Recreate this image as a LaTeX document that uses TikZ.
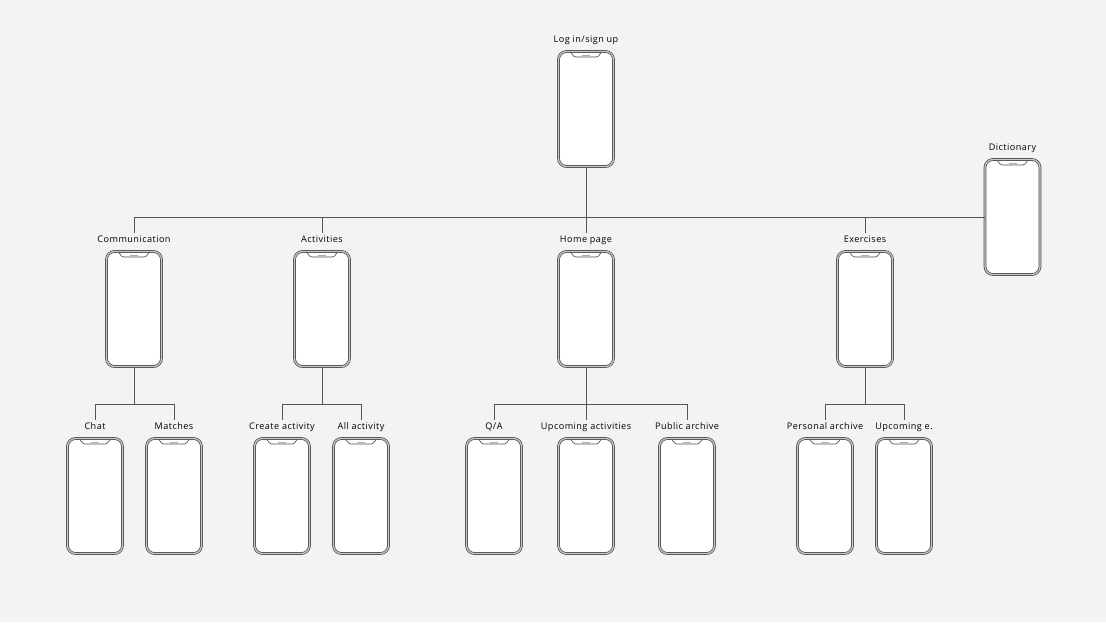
\documentclass[tikz,border=0pt]{standalone}
\usepackage{fontspec}
\setmainfont{Open Sans}[LetterSpace=5]
\usetikzlibrary{positioning}

\definecolor{paper}{HTML}{F3F3F3}
\definecolor{frame}{HTML}{4A4A4A}
\definecolor{wire}{HTML}{555555}

\begin{document}
\begin{tikzpicture}[
  x=1pt, y=-1pt,
  every node/.style={font=\fontsize{9.1}{11}\selectfont},
  caption/.style={inner sep=2.8pt, text=black, text height=6.9pt,
    text depth=2.3pt},
  phone/.style={rectangle, rounded corners=8pt, minimum width=55pt,
    minimum height=115pt, inner sep=0pt, fill=white, draw=frame,
    line width=0.75pt, double=frame!30, double distance=1.2pt,
    path picture={
      \draw[frame, line width=0.65pt, rounded corners=1.5pt]
        ([xshift=-15pt,yshift=-1pt]path picture bounding box.north)
        -- ([xshift=-12pt,yshift=-5.5pt]path picture bounding box.north)
        -- ([xshift=12pt,yshift=-5.5pt]path picture bounding box.north)
        -- ([xshift=15pt,yshift=-1pt]path picture bounding box.north);
      \draw[frame!45, line width=0.4pt]
        ([xshift=-4pt,yshift=-3.4pt]path picture bounding box.north)
        -- ([xshift=4pt,yshift=-3.4pt]path picture bounding box.north);
    }},
  wire/.style={draw=wire, line width=0.8pt}
]

% background / page size
\fill[paper] (0,0) rectangle (1106,622);
\useasboundingbox (0,0) rectangle (1106,622);

% ------------------------------------------------------------
% Top: entry screen and the side screen
% ------------------------------------------------------------
\node[phone] (login) at (586,109) {};
\node[caption, above=3.2pt of login] (loginlbl) {Log in/sign up};

\node[phone] (dict) at (1012.5,217) {};
\node[caption, above=3.2pt of dict] (dictlbl) {Dictionary};

% ------------------------------------------------------------
% Second level
% ------------------------------------------------------------
\node[phone] (comm) at (134,309) {};
\node[caption, above=3.2pt of comm] (commlbl) {Communication};

\node[phone] (act) at (322,309) {};
\node[caption, above=3.2pt of act] (actlbl) {Activities};

\node[phone] (home) at (586,309) {};
\node[caption, above=3.2pt of home] (homelbl) {Home page};

\node[phone] (exer) at (865,309) {};
\node[caption, above=3.2pt of exer] (exerlbl) {Exercises};

% ------------------------------------------------------------
% Third level
% ------------------------------------------------------------
\node[phone] (chat) at (95,496) {};
\node[caption, above=3.2pt of chat] (chatlbl) {Chat};
\node[phone] (match) at (174,496) {};
\node[caption, above=3.2pt of match] (matchlbl) {Matches};

\node[phone] (create) at (282,496) {};
\node[caption, above=3.2pt of create] (createlbl) {Create activity};
\node[phone] (allact) at (361,496) {};
\node[caption, above=3.2pt of allact] (allactlbl) {All activity};

\node[phone] (qa) at (494,496) {};
\node[caption, above=3.2pt of qa] (qalbl) {Q/A};
\node[phone] (upcom) at (586,496) {};
\node[caption, above=3.2pt of upcom] (upcomlbl) {Upcoming activities};
\node[phone] (public) at (687,496) {};
\node[caption, above=3.2pt of public] (publiclbl) {Public archive};

\node[phone] (personal) at (825,496) {};
\node[caption, above=3.2pt of personal] (personallbl) {Personal archive};
\node[phone] (upexer) at (904,496) {};
\node[caption, above=3.2pt of upexer] (upexerlbl) {Upcoming e.};

% ------------------------------------------------------------
% Connectors, top level bus runs into the side of Dictionary
% ------------------------------------------------------------
\draw[wire] (login.south) -- (homelbl.north);
\draw[wire] (commlbl.north |- dict.west) -- (dict.west);
\draw[wire] (commlbl.north) -- (commlbl.north |- dict.west);
\draw[wire] (actlbl.north) -- (actlbl.north |- dict.west);
\draw[wire] (exerlbl.north) -- (exerlbl.north |- dict.west);

% lower buses
\coordinate (commbus) at (134,404);
\coordinate (actbus) at (322,404);
\coordinate (homebus) at (586,404);
\coordinate (exerbus) at (865,404);

\draw[wire] (comm.south) -- (commbus);
\draw[wire] (chatlbl.north) -- (chatlbl.north |- commbus)
  -- (matchlbl.north |- commbus) -- (matchlbl.north);

\draw[wire] (act.south) -- (actbus);
\draw[wire] (createlbl.north) -- (createlbl.north |- actbus)
  -- (allactlbl.north |- actbus) -- (allactlbl.north);

\draw[wire] (home.south) -- (upcomlbl.north);
\draw[wire] (qalbl.north) -- (qalbl.north |- homebus)
  -- (publiclbl.north |- homebus) -- (publiclbl.north);

\draw[wire] (exer.south) -- (exerbus);
\draw[wire] (personallbl.north) -- (personallbl.north |- exerbus)
  -- (upexerlbl.north |- exerbus) -- (upexerlbl.north);

\end{tikzpicture}
\end{document}
